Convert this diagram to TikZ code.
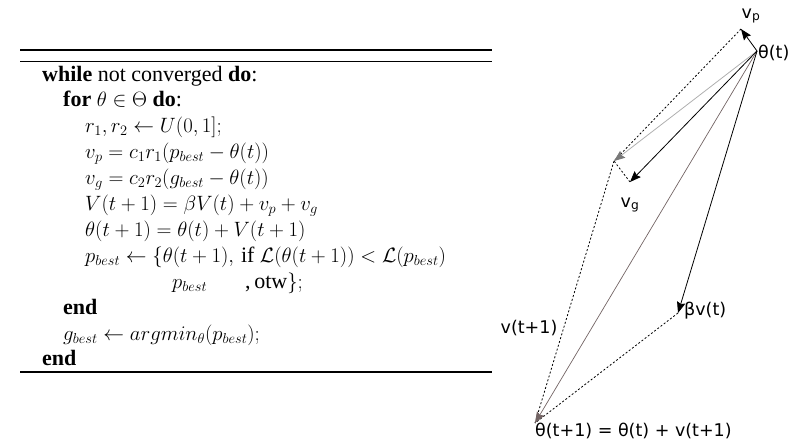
\documentclass[tikz,border=0pt]{standalone}
\usepackage[no-math]{fontspec}
\setmainfont{Liberation Serif}
\newfontfamily\dvs{DejaVu Sans}
\usetikzlibrary{arrows.meta}
\definecolor{lightarr}{RGB}{175,175,175}
\definecolor{lightarrhead}{RGB}{120,120,120}
\definecolor{sumarr}{RGB}{115,100,100}
\begin{document}
\begin{tikzpicture}[x=1pt,y=-1pt,
  algo/.style={inner sep=0pt,anchor=base west,font=\fontsize{22}{26}\selectfont},
  lbl/.style={inner sep=0pt,font=\dvs\fontsize{17.5}{20}\selectfont},
  rulebar/.style={line width=1.3pt},
  vec/.style={-{Stealth[length=11pt,width=8.5pt,inset=1.5pt]},line width=0.8pt},
  aux/.style={dash pattern=on 2pt off 2pt,line width=0.8pt}]
\useasboundingbox (0,0) rectangle (794,447);
% rules
\coordinate (r1a) at (20,50);   \coordinate (r1b) at (492,50);
\coordinate (r2a) at (20,61.5); \coordinate (r2b) at (492,61.5);
\coordinate (r3a) at (20,372);  \coordinate (r3b) at (492,372);
\draw[rulebar] (r1a) -- (r1b);
\draw[rulebar] (r2a) -- (r2b);
\draw[rulebar] (r3a) -- (r3b);
% algorithm
\node[algo] (l1) at (42,81) {\textbf{while} not converged \textbf{do}:};
\node[algo] (l2) at (63,106.9) {\textbf{for} $\theta\in\Theta$ \textbf{do}:};
\node[algo] (l3) at (85,132.8) {$r_1, r_2 \leftarrow U(0,1];$};
\node[algo] (l4) at (85,158.7) {$v_p = c_1 r_1 (p_{best} - \theta(t))$};
\node[algo] (l5) at (85,184.6) {$v_g = c_2 r_2 (g_{best} - \theta(t))$};
\node[algo] (l6) at (85,210.5) {$V(t+1) = \beta V(t) + v_p + v_g$};
\node[algo] (l7) at (85,236.4) {$\theta(t+1) = \theta(t) + V(t+1)$};
\node[algo] (l8) at (85,262.3) {$p_{best} \leftarrow \{\theta(t+1),\,\mbox{if }\mathcal{L}(\theta(t+1)) < \mathcal{L}(p_{best})$};
\node[algo] (l9) at (172,288.2) {$p_{best}$};
\node[algo] (l9b) at (245,288.2) {,\,otw$\};$};
\node[algo] (l10) at (63,314.1) {\textbf{end}};
\node[algo] (l11) at (63,340) {$g_{best} \leftarrow argmin_\theta(p_{best});$};
\node[algo] (l12) at (42,365.9) {\textbf{end}};
% vector diagram
\coordinate (T) at (757,51);
\coordinate (P) at (741,29);
\coordinate (G) at (630,182);
\coordinate (S) at (614,161);
\coordinate (B) at (678,313);
\coordinate (N) at (535,423);
\draw[aux] (P) -- (S);
\draw[aux] (G) -- (S);
\draw[aux] (S) -- (N);
\draw[aux] (B) -- (N);
\draw[vec,lightarr,-{Stealth[length=11pt,width=8.5pt,inset=1.5pt,color=lightarrhead]}] (T) -- (S);
\draw[vec,sumarr,line width=0.7pt] (T) -- (N);
\draw[vec] (T) -- (P);
\draw[vec] (T) -- (G);
\draw[vec] (T) -- (B);
\node[lbl] (lvp) at (751,16) {v\textsubscript{p}};
\node[lbl,anchor=west] (lth) at (758,53) {θ(t)};
\node[lbl] (lvg) at (630,205) {v\textsubscript{g}};
\node[lbl,anchor=west] (lbv) at (684,311) {βv(t)};
\node[lbl] (lvt) at (529,328) {v(t+1)};
\node[lbl,anchor=west] (lnew) at (535,431) {θ(t+1) = θ(t) + v(t+1)};
\end{tikzpicture}
\end{document}
